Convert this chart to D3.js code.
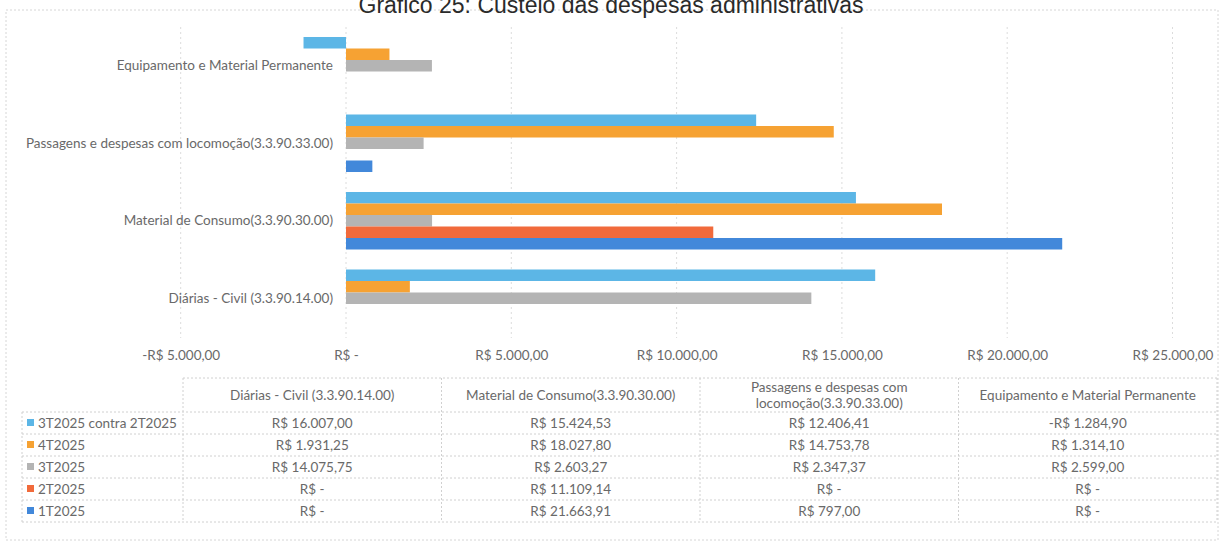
<!DOCTYPE html>
<html>
<head>
<meta charset="utf-8">
<script src="https://cdn.jsdelivr.net/npm/d3@7"></script>
<style>
  body { margin: 0; background: #fff; }
  svg { display: block; }
  .tick line, .domain { display: none; }
</style>
</head>
<body>
<div id="chart"></div>
<script>
// data
var categories = [
  "Diárias - Civil (3.3.90.14.00)",
  "Material de Consumo(3.3.90.30.00)",
  "Passagens e despesas com locomoção(3.3.90.33.00)",
  "Equipamento e Material Permanente"
];
var seriesNames = ["3T2025 contra 2T2025", "4T2025", "3T2025", "2T2025", "1T2025"];
var s3tContra2t = [16007.00, 15424.53, 12406.41, -1284.90];
var s4t = [1931.25, 18027.80, 14753.78, 1314.10];
var s3t = [14075.75, 2603.27, 2347.37, 2599.00];
var s2t = [0, 11109.14, 0, 0];
var s1t = [0, 21663.91, 797.00, 0];
var seriesValues = [s3tContra2t, s4t, s3t, s2t, s1t];
var tickValues = [-5000, 0, 5000, 10000, 15000, 20000, 25000];
var colors = ["#5cb6e6", "#f6a233", "#b4b4b4", "#f16a3b", "#4288da"];

var width = 1223;
var height = 545;
var font = "Lato, 'Open Sans', sans-serif";
var fsize = 13.5;
var textGray = "#696969";

var svg = d3.select("#chart")
  .append("svg")
  .attr("width", width)
  .attr("height", height);

// outer dotted frame
svg.append("rect")
  .attr("x", 6).attr("y", 10)
  .attr("width", 1212).attr("height", 530)
  .attr("fill", "none")
  .attr("stroke", "#d6d6d6")
  .attr("stroke-dasharray", "2,2");

// title (cut at the top in the original)
svg.append("text")
  .attr("x", 611)
  .attr("y", 13)
  .attr("text-anchor", "middle")
  .attr("font-family", "'Liberation Sans', Arial, sans-serif")
  .attr("font-size", 23)
  .attr("fill", "#2a2a2a")
  .text("Gráfico 25: Custeio das despesas administrativas");

// scales
var xScale = d3.scaleLinear()
  .domain([-5000, 25000])
  .range([180.7, 1172.5]);

var catOrder = categories.slice().reverse();
var yScale = d3.scaleBand()
  .domain(catOrder)
  .range([27, 337])
  .paddingInner(0.258)
  .paddingOuter(0.129);

var ySub = d3.scaleBand()
  .domain(seriesNames)
  .range([0, yScale.bandwidth()]);

// currency format
var brl = d3.formatLocale({
  decimal: ",",
  thousands: ".",
  grouping: [3],
  currency: ["R$ ", ""],
  minus: "-"
});
var money = brl.format("$,.2f");
function fmt(v) {
  if (v === 0) return "R$ -";
  return money(v);
}

// gridlines
svg.append("g")
  .selectAll("line")
  .data(tickValues)
  .enter()
  .append("line")
  .attr("x1", function(d) { return xScale(d); })
  .attr("x2", function(d) { return xScale(d); })
  .attr("y1", 27)
  .attr("y2", 338)
  .attr("stroke", "#dcdcdc")
  .attr("stroke-dasharray", "2,3");

// bars
var groups = svg.append("g")
  .selectAll("g")
  .data(seriesNames)
  .enter()
  .append("g")
  .attr("fill", function(d, i) { return colors[i]; });

groups.selectAll("rect")
  .data(function(d, i) {
    return categories.map(function(c, j) {
      return { series: d, cat: c, value: seriesValues[i][j] };
    });
  })
  .enter()
  .append("rect")
  .attr("x", function(d) { return xScale(Math.min(0, d.value)); })
  .attr("y", function(d) { return yScale(d.cat) + ySub(d.series); })
  .attr("width", function(d) { return Math.abs(xScale(d.value) - xScale(0)); })
  .attr("height", ySub.bandwidth());

// category labels
svg.append("g")
  .selectAll("text")
  .data(catOrder)
  .enter()
  .append("text")
  .attr("x", 333)
  .attr("y", function(d) { return yScale(d) + yScale.bandwidth() / 2; })
  .attr("dy", "0.35em")
  .attr("text-anchor", "end")
  .attr("font-family", font)
  .attr("font-size", fsize)
  .attr("fill", textGray)
  .text(function(d) { return d; });

// x axis labels
var xAxis = d3.axisBottom(xScale)
  .tickValues(tickValues)
  .tickSize(0)
  .tickPadding(0)
  .tickFormat(fmt);

svg.append("g")
  .attr("class", "xAxis")
  .attr("transform", "translate(0,350)")
  .call(xAxis)
  .selectAll("text")
  .attr("font-family", font)
  .attr("font-size", fsize)
  .attr("fill", textGray);

// data table
var colLeft = 183;
var colW = 258.5;
var legLeft = 22;
var headTop = 378;
var headBot = 412;
var rowH = 22;
var tableBot = headBot + rowH * seriesNames.length;
var table = svg.append("g")
  .attr("stroke", "#d0d0d0")
  .attr("stroke-dasharray", "2,2");

// header box
table.append("line")
  .attr("x1", colLeft).attr("x2", colLeft + colW * 4)
  .attr("y1", headTop).attr("y2", headTop);
// row lines
d3.range(seriesNames.length + 1).forEach(function(i) {
  table.append("line")
    .attr("x1", legLeft).attr("x2", colLeft + colW * 4)
    .attr("y1", headBot + i * rowH).attr("y2", headBot + i * rowH);
});
// column lines
d3.range(5).forEach(function(i) {
  table.append("line")
    .attr("x1", colLeft + i * colW).attr("x2", colLeft + i * colW)
    .attr("y1", headTop).attr("y2", tableBot);
});
table.append("line")
  .attr("x1", legLeft).attr("x2", legLeft)
  .attr("y1", headBot).attr("y2", tableBot);

// header texts
var headerLines = [
  ["Diárias - Civil (3.3.90.14.00)"],
  ["Material de Consumo(3.3.90.30.00)"],
  ["Passagens e despesas com", "locomoção(3.3.90.33.00)"],
  ["Equipamento e Material Permanente"]
];
headerLines.forEach(function(lines, i) {
  var t = svg.append("text")
    .attr("x", colLeft + colW * i + colW / 2)
    .attr("y", (headTop + headBot) / 2 - (lines.length - 1) * 8)
    .attr("text-anchor", "middle")
    .attr("font-family", font)
    .attr("font-size", fsize)
    .attr("fill", textGray);
  lines.forEach(function(l, k) {
    t.append("tspan")
      .attr("x", colLeft + colW * i + colW / 2)
      .attr("dy", k === 0 ? "0.35em" : "16")
      .text(l);
  });
});

// rows
seriesNames.forEach(function(name, i) {
  var cy = headBot + i * rowH + rowH / 2;
  svg.append("rect")
    .attr("x", 27).attr("y", cy - 4)
    .attr("width", 7).attr("height", 7)
    .attr("fill", colors[i]);
  svg.append("text")
    .attr("x", 38).attr("y", cy)
    .attr("dy", "0.35em")
    .attr("font-family", font)
    .attr("font-size", fsize)
    .attr("fill", textGray)
    .text(name);
  seriesValues[i].forEach(function(v, j) {
    svg.append("text")
      .attr("x", colLeft + colW * j + colW / 2)
      .attr("y", cy)
      .attr("dy", "0.35em")
      .attr("text-anchor", "middle")
      .attr("font-family", font)
      .attr("font-size", fsize)
      .attr("fill", textGray)
      .text(fmt(v));
  });
});
</script>
</body>
</html>
